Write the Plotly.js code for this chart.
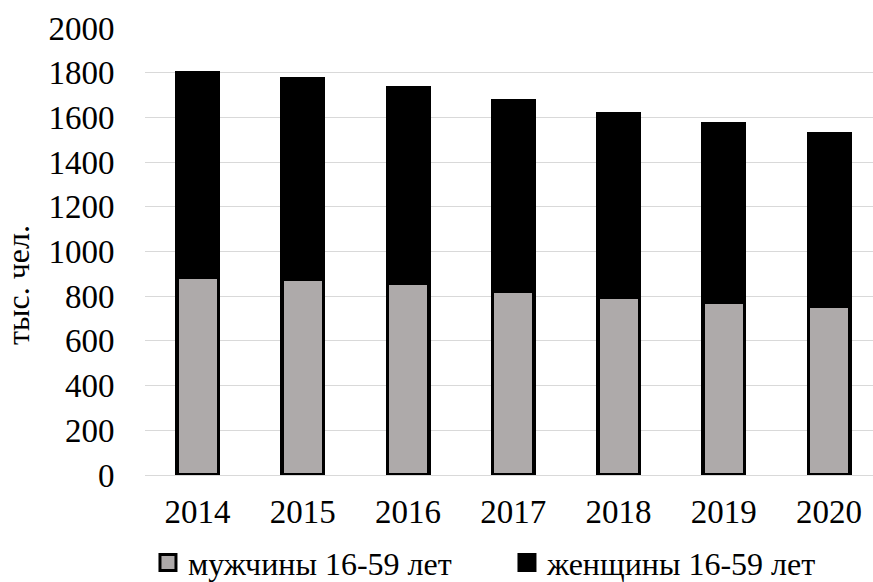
<!DOCTYPE html>
<html>
<head>
<meta charset="utf-8">
<script src="https://cdn.plot.ly/plotly-3.0.1.min.js"></script>
<style>
html,body{margin:0;padding:0;background:#fff;}
#chart{width:873px;height:582px;}
#chart svg text{font-family:"Liberation Serif","DejaVu Serif",serif !important;}
</style>
</head>
<body>
<div id="chart"></div>
<script>
const years = ["2014", "2015", "2016", "2017", "2018", "2019", "2020"];
const men = [885, 875, 857, 823, 794, 771, 753];
const women = [916, 899, 877, 853, 824, 802, 775];
const seriesNames = ["мужчины 16-59 лет", "женщины 16-59 лет"];
const yTicks = [0, 200, 400, 600, 800, 1000, 1200, 1400, 1600, 1800, 2000];
const yTitle = "тыс. чел.";

const FONT = "Liberation Serif, DejaVu Serif, serif";
const GRAY = "#AEAAAA";

const traces = [
  {type: "bar", x: years, y: men, name: seriesNames[0], legendgroup: "m", showlegend: false,
   width: 0.395, marker: {color: GRAY, line: {color: "#000", width: 3.5}}, hoverinfo: "x+y+name"},
  {type: "bar", x: years, y: women, name: seriesNames[1], legendgroup: "w", showlegend: false,
   width: 0.395, marker: {color: "#000", line: {color: "#000", width: 3.5}}, hoverinfo: "x+y+name"},
  {type: "scatter", mode: "markers", x: [null], y: [null], name: seriesNames[0], legendgroup: "m",
   marker: {symbol: "square", size: 16, color: GRAY, line: {color: "#000", width: 3}}, hoverinfo: "skip"},
  {type: "scatter", mode: "markers", x: [null], y: [null], name: seriesNames[1], legendgroup: "w",
   marker: {symbol: "square", size: 16, color: "#000", line: {color: "#000", width: 3}}, hoverinfo: "skip"}
];

const layout = {
  width: 873, height: 582,
  margin: {l: 145, r: 0, t: 28, b: 107},
  paper_bgcolor: "#fff", plot_bgcolor: "#fff",
  barmode: "stack",
  font: {family: FONT, color: "#000"},
  xaxis: {
    type: "category", range: [-0.5, 6.417], automargin: false,
    showgrid: false, zeroline: false, showline: false,
    ticks: "outside", ticklen: 7, tickcolor: "rgba(0,0,0,0)",
    tickfont: {family: FONT, size: 33, color: "#000"}
  },
  yaxis: {
    range: [0, 2000], tickvals: yTicks, ticktext: yTicks.map(String), automargin: false,
    showgrid: true, gridcolor: "#d9d9d9", gridwidth: 1,
    zeroline: true, zerolinecolor: "#d9d9d9", zerolinewidth: 1,
    showline: false,
    ticks: "outside", ticklen: 23, tickcolor: "rgba(0,0,0,0)",
    tickfont: {family: FONT, size: 33, color: "#000"}
  },
  showlegend: true,
  legend: {
    orientation: "h", xref: "container", yref: "container",
    x: 0.1695, xanchor: "left", y: 0.033, yanchor: "middle",
    font: {family: FONT, size: 32, color: "#000"},
    entrywidth: 314, entrywidthmode: "pixels", itemwidth: 30,
    bgcolor: "rgba(0,0,0,0)", traceorder: "normal"
  },
  annotations: [{
    text: yTitle, xref: "paper", yref: "paper", x: -0.1745, y: 0.425,
    xanchor: "center", yanchor: "middle", textangle: -90, showarrow: false,
    font: {family: FONT, size: 32, color: "#000"}
  }]
};

Plotly.newPlot("chart", traces, layout, {displayModeBar: false, staticPlot: true});
</script>
</body>
</html>
